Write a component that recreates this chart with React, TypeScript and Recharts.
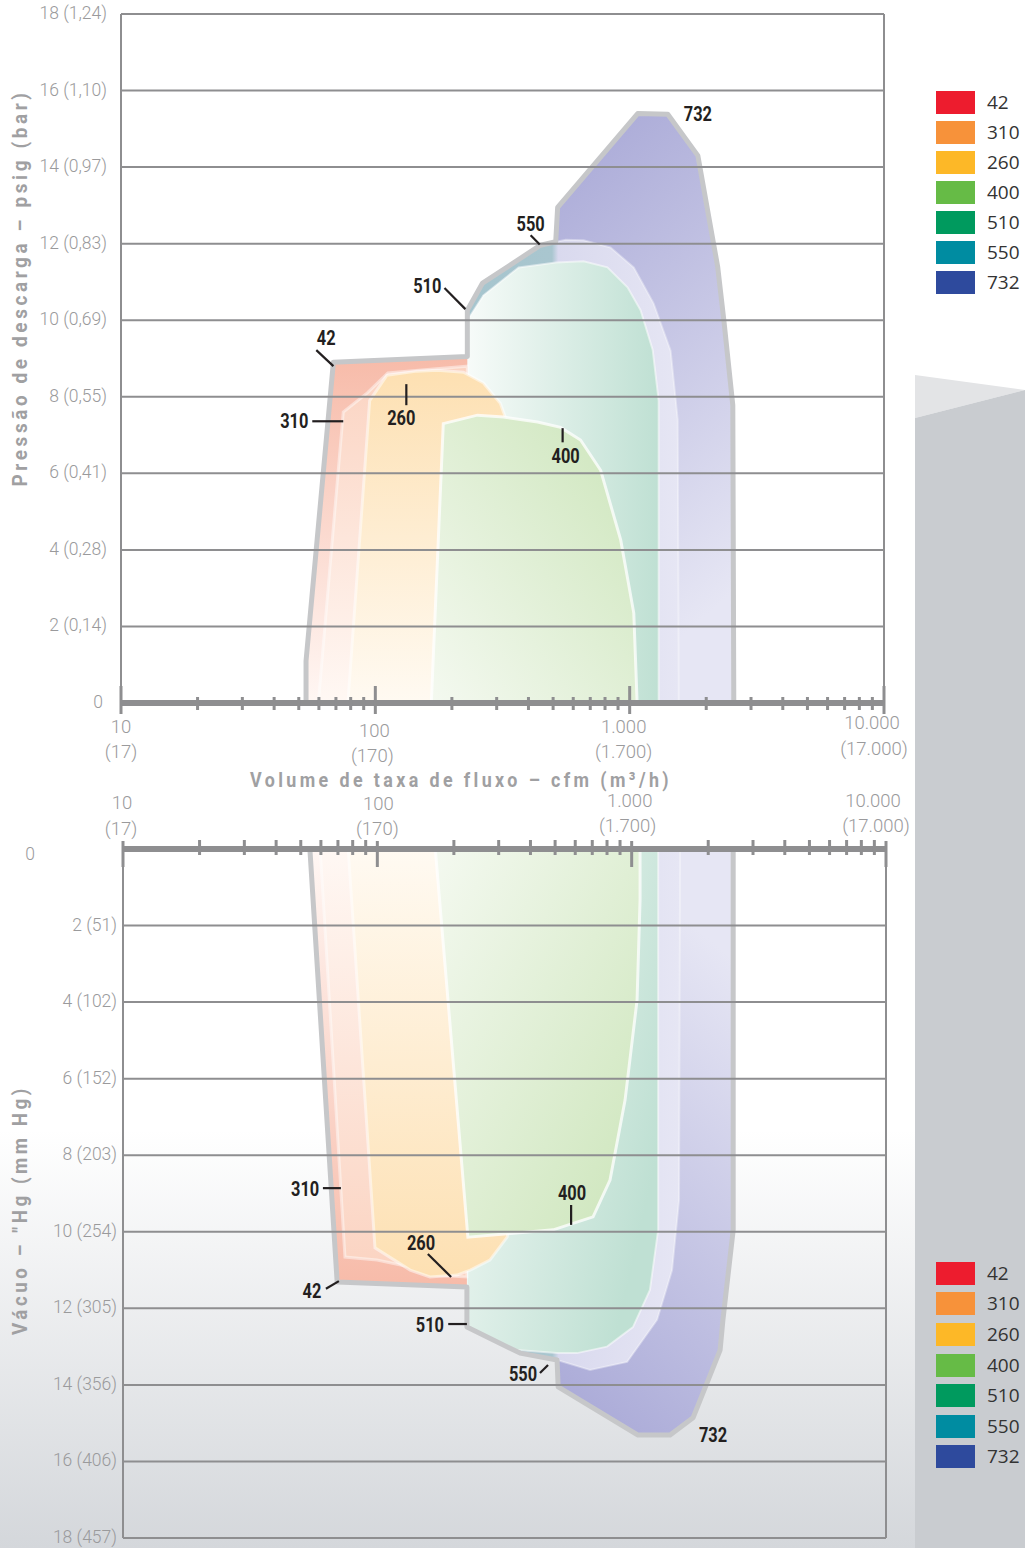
import React from 'react';
import { ComposedChart, Area, Line, XAxis, YAxis, ReferenceLine, ReferenceDot, Legend } from 'recharts';

// ---------------- data ----------------
const MODELS = ['42', '310', '260', '400', '510', '550', '732'];
const MODEL_COLORS = ['#ed1c2e', '#f7923a', '#fdb827', '#66bb46', '#009a5e', '#008ca1', '#2e4a9d'];

const X_TICKS = [10, 20, 30, 40, 50, 60, 70, 80, 90, 100, 200, 300, 400, 500, 600, 700, 800, 900, 1000, 2000, 3000, 4000, 5000, 6000, 7000, 8000, 9000, 10000];
const X_MAJOR = [10, 100, 1000, 10000];
const X_LABELS_CFM = ['10', '100', '1.000', '10.000'];
const X_LABELS_M3H = ['(17)', '(170)', '(1.700)', '(17.000)'];
const Y_TICKS = [0, 2, 4, 6, 8, 10, 12, 14, 16, 18];
const PRESSURE_LABELS = ['0', '2 (0,14)', '4 (0,28)', '6 (0,41)', '8 (0,55)', '10 (0,69)', '12 (0,83)', '14 (0,97)', '16 (1,10)', '18 (1,24)'];
const VACUUM_LABELS = ['0', '2 (51)', '4 (102)', '6 (152)', '8 (203)', '10 (254)', '12 (305)', '14 (356)', '16 (406)', '18 (457)'];

// pressure envelopes: [cfm, psig]
const P_42 = [[53.4, 0], [53.4, 1.1], [68.4, 8.9], [230, 9.05], [230, 0]];
const P_310 = [[59.7, 0], [74.8, 7.6], [93, 8.1], [112, 8.62], [148, 8.69], [230, 8.8], [230, 0]];
const P_260 = [[78, 0], [95, 7.9], [111, 8.56], [146, 8.67], [175, 8.69], [222, 8.64], [266, 8.36], [310, 7.83], [340, 7.1], [350, 0]];
const P_400 = [[166, 0], [185, 7.3], [252, 7.52], [319, 7.47], [434, 7.34], [535, 7.2], [641, 6.87], [769, 6.08], [922, 4.26], [1038, 2.35], [1070, 0]];
const P_510 = [[230, 0], [230, 10.0], [266, 10.65], [366, 11.38], [512, 11.51], [659, 11.54], [818, 11.38], [981, 10.86], [1104, 10.26], [1232, 9.22], [1300, 7.9], [1300, 0]];
const P_550 = [[230, 0], [230, 10.26], [264, 10.97], [446, 11.96], [560, 12.1], [659, 12.09], [841, 11.9], [1038, 11.38], [1242, 10.44], [1449, 9.2], [1545, 7.4], [1560, 0]];
const P_732 = [[521, 0], [521, 12.95], [1075, 15.4], [1412, 15.38], [1854, 14.3], [2218, 11.4], [2346, 10.0], [2544, 7.78], [2567, 0]];
const P_OUTLINE = [[53.4, 0], [53.4, 1.1], [68.4, 8.9], [230, 9.05], [230, 10.26], [264, 10.97], [446, 11.96], [512, 12.05], [521, 12.95], [1075, 15.4], [1412, 15.38], [1854, 14.3], [2218, 11.4], [2346, 10.0], [2544, 7.78], [2567, 0]];

// vacuum envelopes: [cfm, "Hg]
const V_42 = [[54.3, 0], [69.5, 11.31], [225, 11.44], [225, 0]];
const V_310 = [[59.6, 0], [74.6, 10.66], [99.7, 10.74], [134.6, 10.92], [161, 11.13], [225, 11.18], [225, 0]];
const V_260 = [[76.8, 0], [97.9, 10.42], [134.6, 11.0], [161, 11.18], [205.6, 11.13], [232, 11.0], [277, 10.74], [324, 10.14], [347, 9.17], [350, 0]];
const V_400 = [[169, 0], [227, 10.14], [491, 9.95], [705, 9.61], [822, 8.65], [942, 6.56], [1050, 3.95], [1079, 1.33], [1079, 0]];
const V_510 = [[225, 0], [225, 12.49], [232, 12.57], [354, 13.09], [509, 13.17], [610, 13.17], [800, 13.0], [1012, 12.49], [1180, 11.52], [1271, 9.95], [1271, 0]];
const V_550 = [[225, 0], [225, 12.49], [364, 13.17], [509, 13.35], [686, 13.61], [960, 13.4], [1259, 12.3], [1442, 11.0], [1536, 9.17], [1550, 0]];
const V_732 = [[514, 0], [514, 14.05], [1059, 15.31], [1416, 15.31], [1743, 14.86], [2227, 13.09], [2285, 12.3], [2507, 9.95], [2507, 0]];
const V_OUTLINE = [[54.3, 0], [69.5, 11.31], [225, 11.44], [225, 12.49], [364, 13.17], [509, 13.35], [514, 14.05], [1059, 15.31], [1416, 15.31], [1743, 14.86], [2227, 13.09], [2285, 12.3], [2507, 9.95], [2507, 0]];

// model callouts: label, anchor [cfm, value], leader line
const P_NOTES = [
  { label: '42', at: [64.1, 9.53], tail: [[58.6, 9.22], [68.4, 8.8]] },
  { label: '310', at: [48, 7.36], tail: [[56.5, 7.36], [74.8, 7.36]] },
  { label: '260', at: [126.5, 7.44], tail: [[132.4, 8.33], [132.4, 7.78]] },
  { label: '400', at: [560, 6.45], tail: [[545, 7.18], [545, 6.81]] },
  { label: '510', at: [160, 10.89], tail: [[187, 10.84], [226, 10.29]] },
  { label: '550', at: [408, 12.51], tail: [[408, 12.22], [443, 11.98]] },
  { label: '732', at: [1854, 15.4], tail: null },
];
const V_NOTES = [
  { label: '310', at: [52, 8.88], tail: [[61.1, 8.86], [71.9, 8.86]] },
  { label: '42', at: [55.3, 11.55], tail: [[62.8, 11.49], [70.6, 11.29]] },
  { label: '260', at: [148.6, 10.29], tail: [[158, 10.58], [195, 11.18]] },
  { label: '400', at: [583, 8.99], tail: [[578, 9.3], [578, 9.82]] },
  { label: '510', at: [161, 12.43], tail: [[190, 12.41], [225, 12.41]] },
  { label: '550', at: [374, 13.71], tail: [[436, 13.69], [469, 13.48]] },
  { label: '732', at: [2089, 15.31], tail: null },
];

// ---------------- styling ----------------
const SANS = "Roboto, 'Noto Sans', 'DejaVu Sans', sans-serif";
const AXIS_GRAY = '#8e8e90';
const TEXT_GRAY = '#9a9a9c';

const AREA_ORDER = ['m732', 'm550', 'm510', 'm42', 'm310', 'm260', 'm400'];
const AREA_STROKE: Record<string, [string, number, number]> = {
  m732: ['none', 0, 0],
  m550: ['#ffffff', 0.35, 2],
  m510: ['#ffffff', 0.5, 2],
  m42: ['none', 0, 0],
  m310: ['#ffffff', 0.45, 3],
  m260: ['#ffffff', 0.5, 3],
  m400: ['#ffffff', 0.75, 3],
};

function buildRows(series: [string, number[][]][]) {
  const rows: any[] = [];
  series.forEach(([key, pts]) => pts.forEach(([x, y]) => rows.push({ x, [key]: y })));
  return rows;
}

const PRESS_ROWS = buildRows([
  ['m732', P_732], ['m550', P_550], ['m510', P_510], ['m42', P_42], ['m310', P_310], ['m260', P_260], ['m400', P_400], ['outline', P_OUTLINE],
]);
const VAC_ROWS = buildRows([
  ['m732', V_732], ['m550', V_550], ['m510', V_510], ['m42', V_42], ['m310', V_310], ['m260', V_260], ['m400', V_400], ['outline', V_OUTLINE],
]);

const PRESS_LBL = { dx: [0, -1, -6, -12], dy: [24, 28, 24, 20], sdx: [0, -3, -6, -10], sdy: [49, 53, 49, 46] };
const VAC_LBL = { dx: [-1, 1, -2, -13], dy: [-46, -45, -48, -48], sdx: [-2, 0, -4, -10], sdy: [-20, -20, -23, -23] };

const makeXTick = (vacuum: boolean) => (props: any) => {
  const { x, y, payload } = props;
  const mi = X_MAJOR.indexOf(payload.value);
  const major = mi >= 0;
  const t = vacuum ? (major ? [-8, 18] : [-9, 6]) : (major ? [-17, 11] : [-6, 7]);
  const L = vacuum ? VAC_LBL : PRESS_LBL;
  const ts = { fill: TEXT_GRAY, fontFamily: SANS, fontWeight: 300, fontSize: 18.5, textAnchor: 'middle' as const, dominantBaseline: 'central' as const };
  return (
    <g>
      <line x1={x} x2={x} y1={y + t[0]} y2={y + t[1]} stroke={AXIS_GRAY} strokeWidth={3} />
      {major && <text x={x + L.dx[mi]} y={y + L.dy[mi]} {...ts}>{X_LABELS_CFM[mi]}</text>}
      {major && <text x={x + L.sdx[mi]} y={y + L.sdy[mi]} {...ts}>{X_LABELS_M3H[mi]}</text>}
    </g>
  );
};

const makeYTick = (labels: string[], zeroX: number | null) => (props: any) => {
  const { x, y, payload } = props;
  const i = Y_TICKS.indexOf(payload.value);
  const common = { fill: TEXT_GRAY, fontFamily: SANS, fontWeight: 300, fontSize: 17.5, dominantBaseline: 'central' as const };
  if (payload.value === 0 && zeroX !== null) {
    return <text x={zeroX} y={y + 5} textAnchor="middle" {...common}>{labels[i]}</text>;
  }
  return <text x={payload.value === 0 ? x - 4 : x} y={y - 1} textAnchor="end" {...common}>{labels[i]}</text>;
};

const LegendBox = ({ rowH }: { rowH: number }) => (
  <div>
    {MODELS.map((m, i) => (
      <div key={m} style={{ display: 'flex', alignItems: 'center', height: rowH }}>
        <div style={{ width: 39, height: 23, background: MODEL_COLORS[i] }} />
        <span style={{ marginLeft: 12, fontFamily: "'Open Sans', sans-serif", fontSize: 19, color: '#333', lineHeight: '23px' }}>{m}</span>
      </div>
    ))}
  </div>
);

function Grad({ id, x1, y1, x2, y2, stops }: { id: string; x1: number; y1: number; x2: number; y2: number; stops: [number, string][] }) {
  return (
    <linearGradient id={id} x1={x1} y1={y1} x2={x2} y2={y2}>
      {stops.map(([o, c], i) => <stop key={i} offset={o} stopColor={c} />)}
    </linearGradient>
  );
}

function Gradients({ p, flip }: { p: string; flip: boolean }) {
  const a = flip ? 1 : 0;
  const b = flip ? 0 : 1;
  return (
    <defs>
      <Grad id={`${p}m732`} x1={0} y1={a} x2={0.25} y2={b} stops={[[0, '#a7a7d6'], [1, '#e6e6f4']]} />
      <Grad id={`${p}m550`} x1={0} y1={0} x2={1} y2={0} stops={[[0, '#a6c5ce'], [0.4, '#a9c6cf'], [0.43, '#d9d9ee'], [1, '#e6e6f4']]} />
      <Grad id={`${p}m510`} x1={0} y1={0} x2={1} y2={flip ? 0.6 : 0} stops={[[0, '#f7fbf9'], [1, '#bfe0d3']]} />
      <Grad id={`${p}m42`} x1={0} y1={a} x2={0} y2={b} stops={[[0, '#f7bba9'], [1, '#fff7f4']]} />
      <Grad id={`${p}m310`} x1={0} y1={a} x2={0} y2={b} stops={[[0, '#fbd3c1'], [1, '#fff8f4']]} />
      <Grad id={`${p}m260`} x1={0} y1={a} x2={0} y2={b} stops={[[0, '#fde0b2'], [1, '#fffaf2']]} />
      <Grad id={`${p}m400`} x1={1} y1={a} x2={0} y2={b} stops={[[0, '#cce5ba'], [1, '#f4f9f0']]} />
    </defs>
  );
}

function Envelope({ vacuum }: { vacuum: boolean }) {
  const rows = vacuum ? VAC_ROWS : PRESS_ROWS;
  const notes = vacuum ? V_NOTES : P_NOTES;
  const p = vacuum ? 'vac' : 'prs';
  const height = vacuum ? 768 : 800;
  const margin = vacuum ? { top: 9, right: 139, bottom: 10, left: 23 } : { top: 14, right: 141, bottom: 37, left: 21 };
  return (
    <ComposedChart width={1025} height={height} data={rows} margin={margin}>
      <Gradients p={p} flip={vacuum} />
      {AREA_ORDER.map((k) => (
        <Area
          key={k}
          dataKey={k}
          type="linear"
          baseValue={0}
          connectNulls
          fill={`url(#${p}${k})`}
          fillOpacity={1}
          stroke={AREA_STROKE[k][0]}
          strokeOpacity={AREA_STROKE[k][1]}
          strokeWidth={AREA_STROKE[k][2]}
          dot={false}
          activeDot={false}
          isAnimationActive={false}
        />
      ))}
      <Line dataKey="outline" type="linear" connectNulls stroke="#c6c7c9" strokeWidth={5} strokeLinejoin="round" dot={false} activeDot={false} isAnimationActive={false} />
      {Y_TICKS.filter((v) => v > 0).map((v) => (
        <ReferenceLine key={v} y={v} stroke={AXIS_GRAY} strokeWidth={2} ifOverflow="visible" />
      ))}
      <ReferenceLine x={10000} stroke={AXIS_GRAY} strokeWidth={2} ifOverflow="visible" />
      {notes.map((n) =>
        n.tail ? (
          <ReferenceLine
            key={'l' + n.label}
            segment={[{ x: n.tail[0][0], y: n.tail[0][1] }, { x: n.tail[1][0], y: n.tail[1][1] }]}
            stroke="#231f20"
            strokeWidth={2.2}
            ifOverflow="visible"
          />
        ) : null
      )}
      {notes.map((n) => (
        <ReferenceDot
          key={'t' + n.label}
          x={n.at[0]}
          y={n.at[1]}
          r={1}
          ifOverflow="visible"
          shape={(sp: any) => (
            <text
              x={sp.cx}
              y={sp.cy}
              textAnchor="middle"
              dominantBaseline="central"
              fontFamily={SANS}
              fontWeight="bold"
              fontSize={21}
              fill="#231f20"
              textLength={n.label.length * 9.4}
              lengthAdjust="spacingAndGlyphs"
            >
              {n.label}
            </text>
          )}
        />
      ))}
      <XAxis
        dataKey="x"
        type="number"
        scale="log"
        domain={[10, 10000]}
        allowDataOverflow
        ticks={X_TICKS}
        interval={0}
        orientation={vacuum ? 'top' : 'bottom'}
        height={60}
        tickSize={0}
        tickMargin={0}
        tickLine={false}
        axisLine={{ stroke: AXIS_GRAY, strokeWidth: 6 }}
        tick={makeXTick(vacuum)}
      />
      <YAxis
        type="number"
        domain={[0, 18]}
        allowDataOverflow
        ticks={Y_TICKS}
        interval={0}
        reversed={vacuum}
        width={100}
        tickSize={0}
        tickMargin={vacuum ? 6 : 14}
        tickLine={false}
        axisLine={{ stroke: AXIS_GRAY, strokeWidth: 2 }}
        tick={makeYTick(vacuum ? VACUUM_LABELS : PRESSURE_LABELS, vacuum ? 30 : null)}
      />
      <Legend
        layout="horizontal"
        verticalAlign="middle"
        align="center"
        wrapperStyle={vacuum ? { left: 936, top: 478, width: 89, height: 215 } : { left: 936, top: 87, width: 89, height: 215 }}
        content={() => <LegendBox rowH={vacuum ? 30.6 : 30} />}
      />
    </ComposedChart>
  );
}

export default function App() {
  const title = {
    fill: '#a0a0a2',
    fontFamily: SANS,
    fontWeight: 'bold' as const,
    fontSize: 21,
    letterSpacing: 4,
    lengthAdjust: 'spacingAndGlyphs' as const,
  };
  return (
    <div style={{ position: 'absolute', left: 0, top: 0, width: 1025, height: 1548, background: '#ffffff', overflow: 'hidden' }}>
      <svg width={1025} height={1548} style={{ position: 'absolute', left: 0, top: 0 }}>
        <defs>
          <linearGradient id="pageFade" x1="0" y1="0" x2="0" y2="1">
            <stop offset="0" stopColor="#ffffff" />
            <stop offset="1" stopColor="#d4d7db" />
          </linearGradient>
        </defs>
        <rect x={0} y={1130} width={915} height={418} fill="url(#pageFade)" />
        <polygon points="915,375 1025,390 915,418" fill="#e3e4e6" />
        <polygon points="915,418 1025,390 1025,1548 915,1548" fill="#c9ccd0" />
        <text x={20} y={288} transform="rotate(-90 20 288)" textAnchor="middle" dominantBaseline="central" textLength={397} {...title}>
          Pressão de descarga – psig (bar)
        </text>
        <text x={461} y={780} textAnchor="middle" dominantBaseline="central" textLength={422} {...title}>
          Volume de taxa de fluxo – cfm (m³/h)
        </text>
        <text x={20} y={1210} transform="rotate(-90 20 1210)" textAnchor="middle" dominantBaseline="central" textLength={250} {...title}>
          Vácuo – "Hg (mm Hg)
        </text>
      </svg>
      <div style={{ position: 'absolute', left: 0, top: 0 }}>
        <Envelope vacuum={false} />
      </div>
      <div style={{ position: 'absolute', left: 0, top: 780 }}>
        <Envelope vacuum={true} />
      </div>
    </div>
  );
}
